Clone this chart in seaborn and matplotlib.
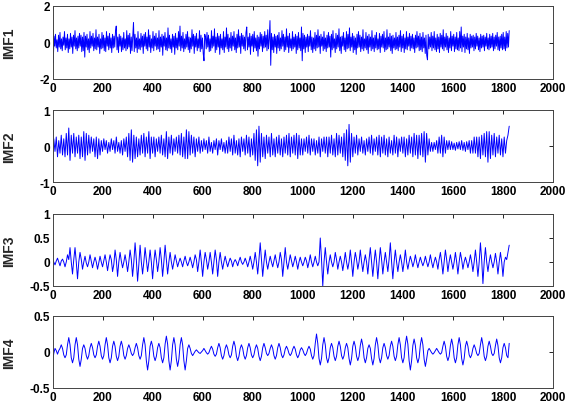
import numpy as np
import pandas as pd
import seaborn as sns
from matplotlib import pyplot as plt

# IMF values, evenly spaced along samples 0..1825
imf1 = [
    1.10, -1.10, .35, -.20, .45, -.30, .15, -.50, .40, -.25, .55, -.35, .20, -.45, .30, -.15, .60, -.40, .25, -.30,
    .45, -.55, .20, -.35, .50, -.25, .30, -.60, .40, -.20, .65, -.35, .25, -.45, .35, -.30, .50, -.20, .40, -.50,
    .30, -.45, .55, -.80, .35, -.25, .45, -.40, .20, -.55, .60, -.30, .35, -.20, .50, -.45, .25, -.35, .70, -.40,
    .30, -.25, .45, -.60, .20, -.35, .55, -.30, .40, -.45, .25, -.50, .60, -.20, .35, -.40, .50, -.30, .25, -.55,
    .45, -.30, .35, -.25, .60, .90, -.40, .30, -.55, .45, -.20, .35, -.50, .25, -.40, .55, -.30, .20, -.45, .65,
    -.35, .40, -.25, .50, -.60, .30, -.45, .35, 1.10, -.50, .45, -.30, .25, -.55, .60, -.35, .20, -.40, .50, -.25,
    .35, -.60, .45, -.20, .55, -.35, .30, -.45, .70, -.25, .40, -.55, .20, -.30, .60, -.45, .35, -.20, .50, -.40,
    .25, -.35, .65, -.50, .30, -.25, .45, -.70, .35, -.20, .55, -.40, .25, -.45, .80, -.30, .40, -.35, .20, -.55,
    .45, -.25, .35, -.65, .50, -.30, .25, -.40, .60, -.20, .90, -.45, .35, -.30, .55, -.50, .20, -.35, .45, -.25,
    .60, -.40, .30, -.55, .25, -.35, .70, -.20, .45, -.60, .35, -.25, .50, -.45, .20, -.30, .65, -.50, .40, -.35,
    .25, -.60, -1.00, .45, .30, -.35, .55, -.25, .40, -.50, .20, -.45, .65, -.30, .35, -.20, .75, -.55, .30, -.40,
    .50, -.25, .35, -.65, .45, -.30, .20, -.40, .60, -.55, .30, -.25, .80, -.35, .45, -.50, .25, -.30, .55, -.45,
    .35, -.20, .60, -.40, .25, -.55, .45, -.30, .70, -.25, .35, -.60, .50, -.20, .40, -.35, .30, -.45, .55, .85,
    -.40, .30, -.25, .50, -.65, .35, -.20, .45, -.50, .60, -.30, .25, -.45, .40, -.75, .30, -.35, .55, -.20, .45,
    -.50, .35, -.30, .60, -.25, .40, -.45, .70, -.35, .20, 1.20, -1.25, .50, -.40, .30, -.55, .45, -.25, .35, -.60,
    .40, -.30, .55, -.45, .25, -.35, .65, -.20, .45, -.50, .30, -.40, .75, -.25, .35, -.55, .50, -.30, .20, -.45,
    .60, -.35, .30, -.25, .45, -.60, .35, -.40, .55, -.30, .25, -.45, .85, -1.00, .50, -.35, .40, -.55, .30, -.25,
    .45, -.50, .35, -.20, .65, -.40, .30, -.55, .25, -.35, .55, -.45, .40, -.30, .70, -.25, .35, -.60, .45, -.20,
    .30, -.45, .60, -.35, .25, -.50, .40, -.30, .55, -.25, .35, -.80, .45, -.40, .65, -.30, .20, -.55, .50, -.35,
    .40, -.25, .75, -.45, .30, -.60, .35, -.20, .55, -.40, .25, -.50, .60, -.35, .45, -.30, .80, -.45, .30, -.25,
    .50, -.55, .35, -.40, .25, -.65, .45, -.30, .60, -.25, .40, -.50, .30, -.35, .70, -.45, .20, -.30, .55, -.40,
    .35, -.60, .45, -.25, .30, -.45, .65, -.35, .25, -.50, .40, -.30, .55, -.40, .20, -.35, .50, -.55, .35, -.25,
    .45, -.30, .60, -.50, .25, -.40, .70, -.35, .30, -.25, .50, -.45, .35, -.60, .40, -.30, .25, -.40, .55, -.35,
    .30, -.45, .40, -.25, .65, -.50, .35, -.30, .45, -.55, .25, -.35, .60, -.40, .30, -.20, .50, -.45, .35, -.30,
    .45, -.35, .25, -.55, .40, -.30, .60, -.25, .35, -.45, .50, -.40, .30, -.50, .55, -.30, .25, -.60, .40, -.70,
    -.95, .45, -.35, .30, -.25, .55, -.45, .35, -.30, .60, -.40, .25, -.50, .45, -.35, .30, -.55, .50, -.25, .40,
    -.35, .70, -.45, .30, -.25, .50, -.40, .35, -.55, .25, -.30, .60, -.45, .35, -.20, .45, -.50, .30, -.35, .55,
    -.40, .25, -.45, .60, -.30, .85, -.50, .35, -.25, .45, -.55, .30, -.35, .50, -.40, .25, -.60, .45, -.30, .35,
    -.25, .40, -.45, .30, -.35, .50, -.20, .35, -.40, .25, -.50, .45, -.30, .35, -.25, .40, -.45, .30, -.20, .50,
    -.35, .25, -.40, .45, -.30, .35, -.25, .50, -.45, .30, -.35, .40, -.20, .55, -.40, .30, -.45, .35, -.30, .45,
    -.40, .55, -.35, .30, -.45, .60, -.30, .50, -.25, .65,
]

imf2 = [
    -.35, .20, -.15, .25, -.30, .15, -.20, .30, -.25, .20, -.30, .35, -.25, .50, -.40, .30, -.20, .35, -.30, .25,
    -.20, .30, -.35, .25, -.30, .40, -.40, .35, -.25, .30, -.20, .25, -.15, .20, -.30, .25, -.35, .20, -.25, .15,
    -.15, .20, -.10, .15, -.20, .10, -.15, .20, -.10, .15, -.20, .25, -.15, .10, -.20, .15, -.25, .20, -.15, .25,
    -.30, .35, -.40, .45, -.45, .30, -.35, .25, -.30, .20, -.25, .30, -.20, .35, -.30, .25, -.20, .40, -.35, .25,
    -.20, .25, -.30, .20, -.15, .25, -.20, .30, -.25, .20, -.30, .40, -.35, .25, -.20, .30, -.25, .20, -.15, .25,
    -.20, .30, -.25, .35, -.30, .25, -.35, .45, -.35, .40, -.25, .30, -.20, .25, -.30, .20, -.15, .25, -.20, .15,
    -.15, .20, -.10, .15, -.20, .25, -.15, .10, -.20, .15, -.10, .20, -.25, .15, -.10, .20, -.15, .10, -.20, .15,
    -.20, .25, -.15, .20, -.25, .30, -.20, .15, -.25, .20, -.30, .25, -.15, .20, -.25, .30, -.20, .25, -.30, .20,
    -.25, .35, -.40, .45, -.55, .55, -.45, .35, -.30, .25, -.35, .30, -.20, .25, -.30, .35, -.25, .20, -.30, .25,
    -.20, .30, -.25, .20, -.30, .25, -.20, .30, -.25, .35, -.30, .25, -.20, .30, -.25, .35, -.35, .30, -.25, .20,
    -.25, .20, -.15, .25, -.20, .30, -.25, .20, -.15, .20, -.25, .15, -.20, .25, -.30, .20, -.15, .25, -.20, .25,
    -.30, .25, -.20, .30, -.25, .20, -.30, .35, -.25, .30, -.20, .25, -.30, .35, -.40, .45, -.55, .60, -.45, .35,
    -.30, .25, -.20, .30, -.25, .20, -.15, .25, -.20, .15, -.25, .20, -.15, .25, -.20, .30, -.25, .20, -.15, .25,
    -.25, .30, -.30, .25, -.20, .30, -.25, .20, -.30, .25, -.20, .15, -.25, .30, -.20, .25, -.30, .20, -.15, .25,
    -.20, .25, -.30, .20, -.25, .30, -.20, .25, -.30, .35, -.25, .30, -.35, .30, -.25, .35, -.30, .40, -.45, .35,
    -.25, .20, -.15, .10, -.15, .10, -.10, .15, -.20, .25, -.20, .30, -.30, .25, -.20, .15, -.10, .15, -.10, .12,
    -.10, .08, -.12, .10, -.08, .12, -.10, .15, -.12, .10, -.15, .12, -.10, .15, -.20, .15, -.20, .25, -.20, .25,
    -.30, .25, -.35, .30, -.25, .35, -.30, .40, -.45, .40, -.35, .30, -.25, .35, -.30, .25, -.20, .30, -.25, .20,
    -.30, .25, -.20, .15, .30, .55,
]

imf3 = [
    .05, .00, -.06, .02, .08, .00, -.08, .02, .06, .00, -.10, .00, .15, .05, .30, .00, -.25, .05, .30, .00,
    -.35, .00, .20, .05, -.15, .00, .12, -.02, -.10, .00, .15, .02, -.12, .00, .10, .00, -.15, -.02, .12, .00,
    -.10, .02, .15, .00, -.18, .00, .15, .05, -.20, -.05, .25, .05, -.30, .00, .20, .02, -.12, .00, .15, .00,
    -.20, .00, .25, .05, -.30, .00, .40, .05, -.40, -.05, .35, .00, -.25, .00, .30, .05, -.20, .00, .25, .00,
    -.35, .00, .25, .05, -.20, .00, .30, .05, -.30, .00, .35, .05, -.25, .00, .20, .00, -.15, .00, .15, .02,
    -.10, .00, .08, .00, -.10, .02, .12, .00, -.08, .00, .10, .00, -.12, .00, .15, .05, -.20, .00, .25, .00,
    -.30, .00, .20, .05, -.15, .00, .20, .00, -.25, .00, .25, .05, -.30, .00, .20, .00, -.15, .00, .12, .00,
    -.10, .00, .08, .02, -.10, .00, .05, .00, -.08, .02, .10, .00, -.05, .00, .08, .00, -.10, .00, .12, .00,
    -.15, .00, .20, .00, -.25, .05, .40, .05, -.30, .00, .25, .00, -.15, .00, .12, .00, -.10, .02, .15, .00,
    -.12, .00, .20, .05, -.30, .00, .30, .00, -.15, .00, .15, .02, -.10, .00, .12, .00, -.15, .00, .10, .00,
    -.08, .00, .10, .02, -.12, .00, .15, .00, -.10, .00, .12, .00, -.08, .00, .50, .05, -.50, .00, .30, .00,
    -.25, .00, .15, .00, -.10, .00, .20, .05, -.15, .00, .12, .00, -.18, .00, .20, .00, -.15, .00, .25, .00,
    -.30, .00, .20, .05, -.15, .00, .25, .00, -.20, .00, .15, .00, -.25, .05, .30, .00, -.30, .00, .25, .00,
    -.35, .00, .30, .05, -.25, .00, .20, .00, -.20, .05, .40, .00, -.35, .00, .25, .00, -.20, .00, .15, .00,
    -.20, .00, .25, .00, -.15, .00, .12, .02, -.10, .00, .15, .00, -.12, .00, .10, .00, -.08, .00, .12, .00,
    -.10, .00, .15, .00, -.12, .00, .10, .00, -.15, .05, .20, .00, -.25, .00, .25, .05, -.20, .00, .15, .00,
    -.15, .00, .20, .00, -.25, .00, .20, .05, -.15, .00, .10, .00, -.12, .00, .15, .00, -.20, .00, .25, .00,
    -.30, .00, .40, .05, -.45, .00, .30, .00, -.20, .00, .15, .00, -.12, .00, .18, .00, -.25, .00, .20, .00,
    -.30, .00, .10, .05, .20, .35,
]

imf4 = [
    -.15, -.02, .05, .02, -.03, .02, .05, .10, .05, -.04, -.08, -.04, .10, .20, .10, -.08, -.15, -.08,
    .10, .20, .10, -.10, -.20, -.10, .05, .10, .05, -.05, -.10, -.05, .06, .12, .06, -.04, -.08, -.04,
    .08, .15, .08, -.05, -.10, -.05, .10, .20, .10, -.08, -.15, -.08, .08, .15, .08, -.06, -.12, -.06,
    .08, .15, .08, -.05, -.10, -.05, .05, .10, .05, -.02, -.05, -.02, .06, .12, .06, -.05, -.10, -.05,
    .10, .20, .10, -.12, -.25, -.12, .08, .15, .08, -.06, -.12, -.06, .06, .12, .06, -.08, -.15, -.08,
    .11, .22, .11, -.12, -.25, -.12, .10, .20, .10, -.10, -.20, -.10, .10, .20, .10, -.12, -.25, -.12,
    .05, .10, .05, -.02, -.05, -.02, .01, .03, .01, -.01, -.02, .00, .02, .05, .02, -.01, -.03, -.01,
    .04, .08, .04, -.03, -.06, -.03, .06, .12, .06, -.05, -.10, -.05, .05, .10, .05, -.04, -.08, -.04,
    .08, .15, .08, -.06, -.12, -.06, .05, .10, .05, -.05, -.10, -.05, .06, .12, .06, -.04, -.08, -.04,
    .05, .10, .05, -.06, -.12, -.06, .06, .12, .06, -.02, -.05, -.02, .05, .10, .05, -.05, -.10, -.05,
    .06, .12, .06, -.04, -.08, -.04, .04, .08, .04, -.02, -.05, -.02, .04, .08, .04, -.04, -.08, -.04,
    .03, .06, .03, -.02, -.05, -.02, .04, .08, .04, -.05, -.10, -.05, .12, .25, .12, -.09, -.18, -.09,
    .10, .20, .10, -.08, -.15, -.08, .06, .12, .06, -.06, -.12, -.06, .08, .15, .08, -.05, -.10, -.05,
    .06, .12, .06, -.09, -.18, -.09, .08, .15, .08, -.06, -.12, -.06, .09, .18, .09, -.08, -.15, -.08,
    .05, .10, .05, -.09, -.18, -.09, .10, .20, .10, -.08, -.15, -.08, .06, .12, .06, -.05, -.10, -.05,
    .08, .15, .08, -.06, -.12, -.06, .10, .20, .10, -.08, -.15, -.08, .11, .22, .11, -.12, -.25, -.12,
    .09, .18, .09, -.08, -.15, -.08, .10, .20, .10, -.10, -.20, -.10, .02, .05, .02, -.01, -.03, -.01,
    .02, .05, .02, -.01, -.03, -.01, .08, .15, .08, -.06, -.12, -.06, .09, .18, .09, -.08, -.15, -.08,
    .10, .20, .10, -.09, -.18, -.09, .08, .15, .08, -.04, -.08, -.04, .05, .10, .05, -.02, -.05, -.02,
    .10, .20, .10, -.06, -.12, -.06, .08, .15, .08, -.02, -.05, -.02, .09, .18, .09, -.08, -.15, -.08,
    .06, .12, .06, -.05, -.08, .12,
]

names = ["IMF1", "IMF2", "IMF3", "IMF4"]
series = [imf1, imf2, imf3, imf4]
ylims = [(-2, 2), (-1, 1), (-0.5, 1), (-0.5, 0.5)]
yticks = [[-2, 0, 2], [-1, 0, 1], [-0.5, 0, 0.5, 1], [-0.5, 0, 0.5]]
last_sample = 1825

sns.set_style("white")
plt.rcParams['font.family'] = ['Liberation Sans', 'DejaVu Sans']
plt.rcParams['font.weight'] = 'bold'
plt.rcParams['axes.unicode_minus'] = False

fig = plt.figure(figsize=(5.68, 4.06), dpi=100)
W, H = 568, 406
left, right = 52.5, 553
panels = [(7, 80), (111, 183), (215, 287), (317, 389)]

for (top, bot), name, vals, yl, yt in zip(panels, names, series, ylims, yticks):
    ax = fig.add_axes([left / W, 1 - bot / H, (right - left) / W, (bot - top) / H])
    df = pd.DataFrame({"t": np.linspace(0, last_sample, len(vals)), "v": vals})
    sns.lineplot(data=df, x="t", y="v", ax=ax, color=(0, 0, 1),
                 linewidth=0.7, sort=False, estimator=None)
    ax.set_xlim(0, 2000)
    ax.set_ylim(*yl)
    ax.set_xticks(range(0, 2001, 200))
    ax.set_yticks(yt)
    ax.set_yticklabels([f"{v:g}" for v in yt])
    ax.tick_params(direction="in", length=3, width=0.6, top=True, right=True,
                   labelsize=8.5, pad=2, colors="black")
    for s in ax.spines.values():
        s.set_color("#444444")
        s.set_linewidth(0.7)
    ax.set_xlabel("")
    ax.set_ylabel(name, fontsize=10, fontweight="bold")
    ax.yaxis.set_label_coords(-0.072, 0.5)

fig.savefig("out.png", dpi=100)
